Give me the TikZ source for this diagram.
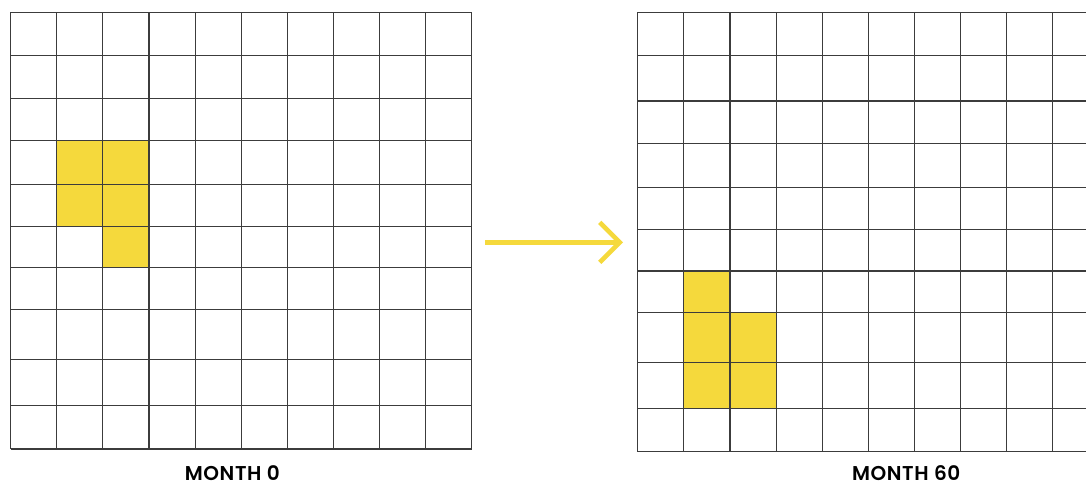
\documentclass[tikz,border=0pt]{standalone}
\usepackage{fontspec}
\setmainfont{Poppins}
\newfontfamily\labelfont{Poppins}[UprightFont=* SemiBold, LetterSpace=3]
\usetikzlibrary{arrows.meta}
\definecolor{cellyellow}{HTML}{F5D93C}
\definecolor{gridgray}{HTML}{3C3C3C}
\tikzset{
  gridline/.style={draw=gridgray, line width=1.1pt},
  cell/.style={fill=cellyellow},
  arrow/.style={draw=cellyellow, line width=4.6pt,
    -{Straight Barb[length=20pt, width=40pt, line width=4.6pt]}},
  monthlabel/.style={anchor=base, inner sep=0pt, text depth=0pt,
    font=\labelfont\fontsize{20}{22}\selectfont}
}

\begin{document}
\begin{tikzpicture}[x=1pt, y=-1pt]
  \useasboundingbox (0,0) rectangle (1086,484);

  % left grid (month 0)
  \def\leftrows{12.3,55.7,98.7,140.3,184.3,226.3,267.7,309.7,359.3,405.7,449}
  \fill[cell] (56.4,140.3) rectangle (148.7,226.3);
  \fill[cell] (102.6,226.3) rectangle (148.7,267.7);
  \foreach \k in {0,...,10}
    \draw[gridline] ({10.6+46.12*\k},12.3) -- ({10.6+46.12*\k},449);
  \foreach \y in \leftrows
    \draw[gridline] (10.6,\y) -- (471.8,\y);

  % right grid (month 60)
  \def\rightrows{12.3,55.7,101,143.3,187.7,229.3,271,312.7,362.3,408.7,451.7}
  \fill[cell] (683.8,271) rectangle (729.9,312.7);
  \fill[cell] (683.8,312.7) rectangle (776.0,408.7);
  \foreach \k in {0,...,9}
    \draw[gridline] ({637.7+46.12*\k},12.3) -- ({637.7+46.12*\k},451.7);
  \foreach \y in \rightrows
    \draw[gridline] (637.7,\y) -- (1086,\y);

  % arrow
  \coordinate (arrowstart) at (485,242.3);
  \coordinate (arrowend) at (623,242.3);
  \draw[arrow] (arrowstart) -- (arrowend);

  % labels
  \node[monthlabel] (month0) at (232.3,480.5) {MONTH 0};
  \node[monthlabel] (month60) at (906.2,480.5) {MONTH 60};
\end{tikzpicture}
\end{document}
